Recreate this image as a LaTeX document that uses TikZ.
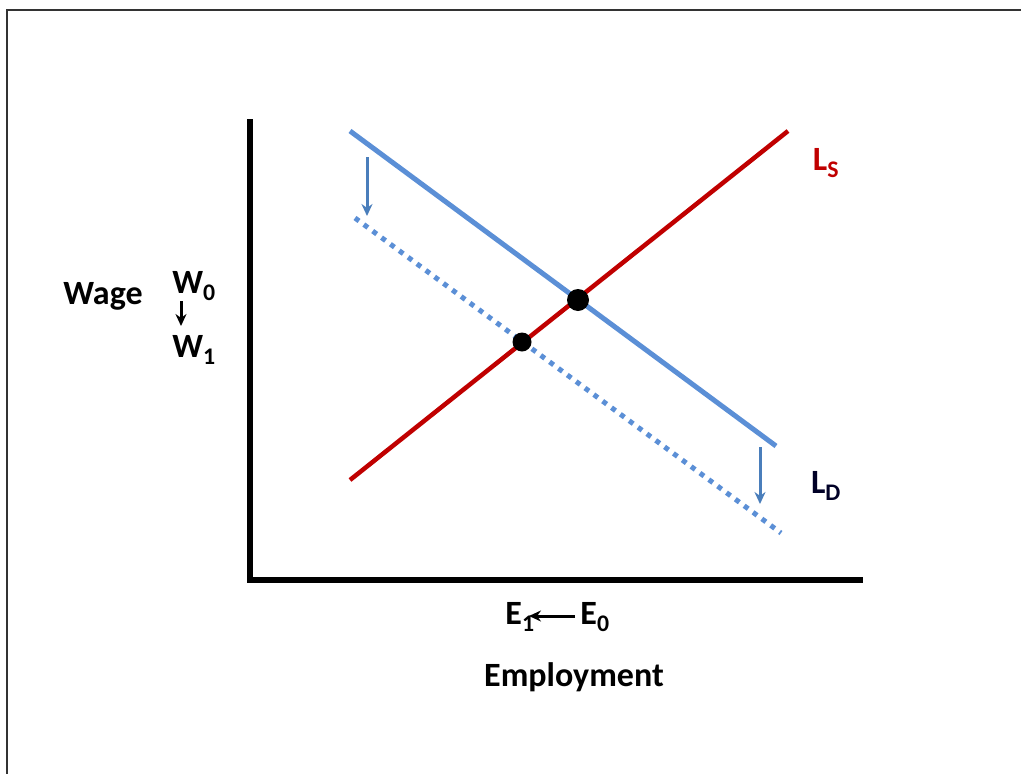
\documentclass[tikz,border=0pt]{standalone}
\usepackage{fontspec}
\setmainfont{Carlito}
\usetikzlibrary{arrows.meta}
\definecolor{sred}{HTML}{C00000}
\definecolor{dblue}{HTML}{5B8FD6}
\definecolor{ablue}{HTML}{4A7EBB}
\begin{document}
\begin{tikzpicture}[x=1pt,y=-1pt,
  lbl/.style={font=\fontsize{34}{38}\selectfont\bfseries, inner sep=0pt},
  axis/.style={line width=6pt},
  shiftarrow/.style={ablue, line width=3pt, -{Stealth[length=12pt,width=11pt]}},
  blackarrow/.style={black, line width=3pt, -{Stealth[length=12pt,width=11pt]}},
  eq/.style={circle, fill=black, inner sep=0pt}]
\useasboundingbox (0,0) rectangle (1021,774);
% frame
\draw[line width=1.5pt, black!80] (7,774) -- (7,10) -- (1021,10);
% axes
\coordinate (ytop) at (250,119);
\coordinate (orig) at (250,580);
\coordinate (xend) at (863,580);
\draw[axis] (ytop) -- (250,583) ;
\draw[axis] (247,580) -- (xend);
% curves
\coordinate (ls1) at (350,480);
\coordinate (ls2) at (788,131);
\coordinate (ld1) at (350,131);
\coordinate (ld2) at (776,446);
\coordinate (ldd1) at (355,218);
\coordinate (ldd2) at (781,533);
\draw[sred, line width=4.5pt] (ls1) -- (ls2);
\draw[dblue, line width=5pt, dash pattern=on 5pt off 6pt] (ldd1) -- (ldd2);
\draw[dblue, line width=5pt] (ld1) -- (ld2);
% equilibrium points
\node[eq, minimum size=22pt] (e0) at (578,300) {};
\node[eq, minimum size=19pt] (e1) at (522,342) {};
% shift arrows
\coordinate (a1s) at (367,157);
\coordinate (a1e) at (367,216);
\coordinate (a2s) at (760,447);
\coordinate (a2e) at (760,504);
\draw[shiftarrow] (a1s) -- (a1e);
\draw[shiftarrow] (a2s) -- (a2e);
% labels
\node[lbl, sred] (LS) at (826,163) {L\textsubscript{S}};
\node[lbl, text=black!85!blue] (LD) at (826,486) {L\textsubscript{D}};
\node[lbl] (wage) at (103,296) {Wage};
\node[lbl] (w0) at (194,286) {W\textsubscript{0}};
\node[lbl] (w1) at (194,350) {W\textsubscript{1}};
\draw[blackarrow] (181,301) -- (181,326);
\node[lbl] (e1l) at (520,617) {E\textsubscript{1}};
\node[lbl] (e0l) at (595,617) {E\textsubscript{0}};
\draw[blackarrow] (575,616) -- (529,616);
\node[lbl] (emp) at (574,677) {Employment};
\end{tikzpicture}
\end{document}
